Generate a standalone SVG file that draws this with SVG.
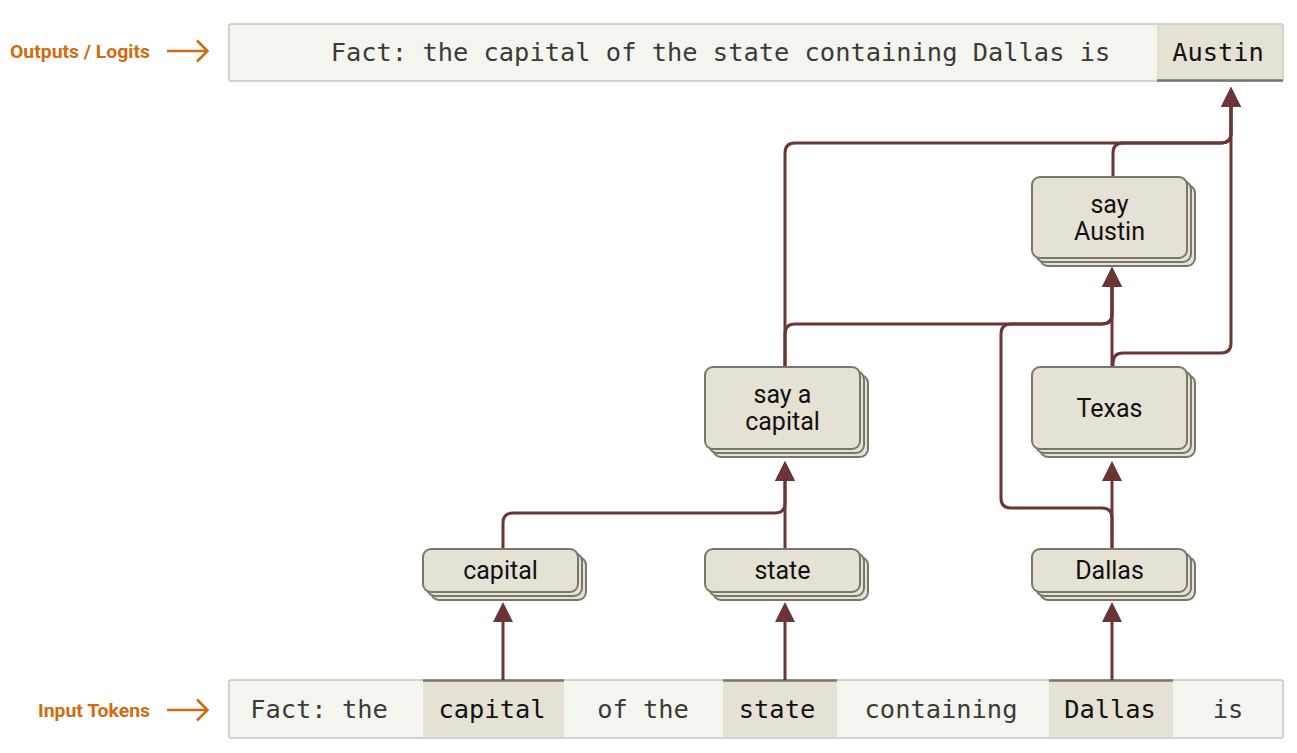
<svg xmlns="http://www.w3.org/2000/svg" width="1297" height="753" viewBox="0 0 1297 753">
<defs>
<style>
.bar{fill:#f5f5f0;stroke:#c6c6be;stroke-width:1.5}
.cell{fill:#e5e1d5}
.cellline{stroke:#77776a;stroke-width:2.5}
.mono{font-family:"DejaVu Sans Mono","Liberation Mono",monospace;font-size:25.4px;text-anchor:middle}
.lt{fill:#3a3a3a}
.dk{fill:#111}
.lbl{font-family:Roboto,"Liberation Sans",sans-serif;font-weight:700;font-size:18.5px;fill:#d06b0f}
.larr{fill:none;stroke:#d06b0f;stroke-width:2.5}
.card{fill:#e5e1d5;stroke:#77776a;stroke-width:2}
.nt{font-family:Roboto,"Liberation Sans",sans-serif;font-size:25px;fill:#111;text-anchor:middle}
.conn{fill:none;stroke:#6b3535;stroke-width:3}
</style>
<marker id="ah" viewBox="0 0 20 20" refX="0" refY="10" markerWidth="20" markerHeight="20" markerUnits="userSpaceOnUse" orient="auto">
<path d="M0,0 L20,10 L0,20 z" fill="#6b3535"/>
</marker>
</defs>

<g id="labels">
<text class="lbl" x="10" y="58" textLength="140" lengthAdjust="spacingAndGlyphs">Outputs / Logits</text>
<path class="larr" d="M167,51 H207 M197,40.5 L207.5,51 L197,61.5"/>
<text class="lbl" x="38" y="717" textLength="112" lengthAdjust="spacingAndGlyphs">Input Tokens</text>
<path class="larr" d="M167,710 H207 M197,699.5 L207.5,710 L197,720.5"/>
</g>

<g id="outputs">
<rect class="bar" x="229" y="24" width="1054" height="57" rx="2"/>
<rect class="cell" x="1157" y="25" width="125" height="55"/>
<line class="cellline" x1="1157" y1="80.5" x2="1283" y2="80.5"/>
<text class="mono lt" x="720.5" y="61">Fact: the capital of the state containing Dallas is</text>
<text class="mono dk" x="1218" y="61">Austin</text>
</g>

<g id="inputs">
<rect class="bar" x="229" y="680" width="1054" height="58" rx="2"/>
<rect class="cell" x="423" y="681" width="141" height="56"/>
<rect class="cell" x="723" y="681" width="114" height="56"/>
<rect class="cell" x="1049" y="681" width="124" height="56"/>
<line class="cellline" x1="423" y1="680.5" x2="564" y2="680.5"/>
<line class="cellline" x1="723" y1="680.5" x2="837" y2="680.5"/>
<line class="cellline" x1="1049" y1="680.5" x2="1173" y2="680.5"/>
<text class="mono lt" x="319" y="718">Fact: the</text>
<text class="mono dk" x="492" y="718">capital</text>
<text class="mono lt" x="643" y="718">of the</text>
<text class="mono dk" x="777" y="718">state</text>
<text class="mono lt" x="941" y="718">containing</text>
<text class="mono dk" x="1110" y="718">Dallas</text>
<text class="mono lt" x="1228" y="718">is</text>
</g>

<g id="connectors">
<path class="conn" d="M503,680 V622" marker-end="url(#ah)"/>
<path class="conn" d="M785,680 V622" marker-end="url(#ah)"/>
<path class="conn" d="M1112,680 V622" marker-end="url(#ah)"/>
<path class="conn" d="M503,549 V523 Q503,513 513,513 H775 Q785,513 785,503 V481" marker-end="url(#ah)"/>
<path class="conn" d="M785,549 V481" marker-end="url(#ah)"/>
<path class="conn" d="M1112,549 V481" marker-end="url(#ah)"/>
<path class="conn" d="M1112,549 V518 Q1112,508 1102,508 H1011 Q1001,508 1001,498 V334 Q1001,324 1011,324 H1102 Q1112,324 1112,314 V287" marker-end="url(#ah)"/>
<path class="conn" d="M785,367 V334 Q785,324 795,324 H1102 Q1112,324 1112,314 V287" marker-end="url(#ah)"/>
<path class="conn" d="M1112,367 V287" marker-end="url(#ah)"/>
<path class="conn" d="M785,367 V153 Q785,143 795,143 H1221 Q1231,143 1231,133 V107" marker-end="url(#ah)"/>
<path class="conn" d="M1113,177 V153 Q1113,143 1123,143 H1221 Q1231,143 1231,133 V107" marker-end="url(#ah)"/>
<path class="conn" d="M1113,367 V363 Q1113,353 1123,353 H1221 Q1231,353 1231,343 V107" marker-end="url(#ah)"/>
</g>

<g id="node-capital">
<rect class="card" x="431" y="557" width="155" height="43" rx="8"/>
<rect class="card" x="427" y="553" width="155" height="43" rx="8"/>
<rect class="card" x="423" y="549" width="155" height="43" rx="8"/>
<text class="nt" x="500.5" y="579">capital</text>
</g>

<g id="node-state">
<rect class="card" x="713" y="557" width="155" height="43" rx="8"/>
<rect class="card" x="709" y="553" width="155" height="43" rx="8"/>
<rect class="card" x="705" y="549" width="155" height="43" rx="8"/>
<text class="nt" x="782.5" y="579">state</text>
</g>

<g id="node-dallas">
<rect class="card" x="1040" y="557" width="155" height="43" rx="8"/>
<rect class="card" x="1036" y="553" width="155" height="43" rx="8"/>
<rect class="card" x="1032" y="549" width="155" height="43" rx="8"/>
<text class="nt" x="1109.5" y="579">Dallas</text>
</g>

<g id="node-say-a-capital">
<rect class="card" x="713" y="375" width="155" height="82" rx="8"/>
<rect class="card" x="709" y="371" width="155" height="82" rx="8"/>
<rect class="card" x="705" y="367" width="155" height="82" rx="8"/>
<text class="nt" x="782.5" y="403">say a</text>
<text class="nt" x="782.5" y="430">capital</text>
</g>

<g id="node-texas">
<rect class="card" x="1040" y="375" width="155" height="82" rx="8"/>
<rect class="card" x="1036" y="371" width="155" height="82" rx="8"/>
<rect class="card" x="1032" y="367" width="155" height="82" rx="8"/>
<text class="nt" x="1109.5" y="417">Texas</text>
</g>

<g id="node-say-austin">
<rect class="card" x="1040" y="185" width="155" height="81" rx="8"/>
<rect class="card" x="1036" y="181" width="155" height="81" rx="8"/>
<rect class="card" x="1032" y="177" width="155" height="81" rx="8"/>
<text class="nt" x="1109.5" y="213">say</text>
<text class="nt" x="1109.5" y="240">Austin</text>
</g>
</svg>
